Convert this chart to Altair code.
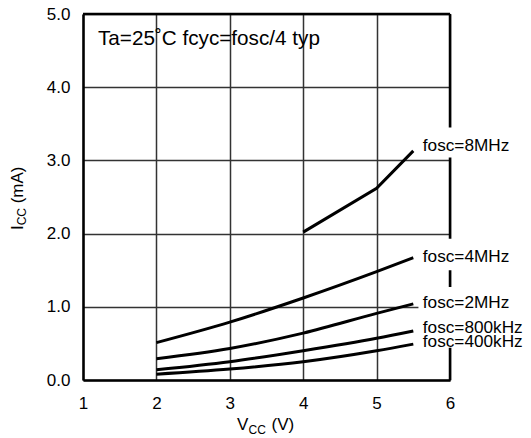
import altair as alt
import pandas as pd

# ---- data ----
vcc = [2, 3, 4, 5, 5.5]
icc_4mhz = [0.51, 0.79, 1.12, 1.48, 1.67]
icc_2mhz = [0.29, 0.43, 0.64, 0.91, 1.04]
icc_800k = [0.14, 0.25, 0.40, 0.57, 0.67]
icc_400k = [0.08, 0.15, 0.25, 0.40, 0.49]
vcc_8mhz = [4, 5, 5.5]
icc_8mhz = [2.02, 2.62, 3.13]

label_names = ["fosc=8MHz", "fosc=4MHz", "fosc=2MHz", "fosc=800kHz", "fosc=400kHz"]
label_y = [3.124, 1.61, 0.977, 0.64, 0.445]
label_x = 5.63
box_top = [3.45, 1.93, 1.27]
box_bottom = [3.04, 1.50, 0.44]
box_x = [5.57, 6.4]

annotation = "Ta=25˚C fcyc=fosc/4 typ"
x_ticks = [1, 2, 3, 4, 5, 6]
y_ticks = [0, 1, 2, 3, 4, 5]

FONT = "Liberation Sans"

rows = []
for name, vals in [("4MHz", icc_4mhz), ("2MHz", icc_2mhz), ("800kHz", icc_800k), ("400kHz", icc_400k)]:
    for v, i in zip(vcc, vals):
        rows.append({"series": name, "vcc": v, "icc": i})
df_low = pd.DataFrame(rows)
df_8 = pd.DataFrame({"vcc": vcc_8mhz, "icc": icc_8mhz})

xscale = alt.Scale(domain=[1, 6], nice=False, zero=False)
yscale = alt.Scale(domain=[0, 5], nice=False)

xaxis = alt.Axis(values=x_ticks, format="d", title=None, ticks=False, labelPadding=15,
                 labelFontSize=17, labelFont=FONT, labelColor="black",
                 grid=True, gridColor="#333333", gridWidth=1.5,
                 domainColor="black", domainWidth=2.5, labelFlush=False)
yaxis = alt.Axis(values=y_ticks, format=".1f", title=None, ticks=False, labelPadding=13,
                 labelFontSize=17, labelFont=FONT, labelColor="black",
                 grid=True, gridColor="#333333", gridWidth=1.5,
                 domainColor="black", domainWidth=2.5, labelFlush=False)

curves = alt.Chart(df_low).mark_line(interpolate="monotone", color="black", strokeWidth=3).encode(
    x=alt.X("vcc:Q", scale=xscale, axis=xaxis),
    y=alt.Y("icc:Q", scale=yscale, axis=yaxis),
    detail="series:N",
)
curve8 = alt.Chart(df_8).mark_line(color="black", strokeWidth=3).encode(
    x=alt.X("vcc:Q", scale=xscale),
    y=alt.Y("icc:Q", scale=yscale),
)

frame_df = pd.DataFrame({"x": [1, 6], "x2": [6, 6], "y": [5, 0], "y2": [5, 5]})
frame = alt.Chart(frame_df).mark_rule(color="black", strokeWidth=2.5).encode(
    x=alt.X("x:Q", scale=xscale), x2="x2:Q",
    y=alt.Y("y:Q", scale=yscale), y2="y2:Q",
)

box_df = pd.DataFrame({"x": [box_x[0]] * 3, "x2": [box_x[1]] * 3, "y": box_top, "y2": box_bottom})
boxes = alt.Chart(box_df).mark_rect(color="white").encode(
    x=alt.X("x:Q", scale=xscale), x2="x2:Q",
    y=alt.Y("y:Q", scale=yscale), y2="y2:Q",
)

lab_df = pd.DataFrame({"t": label_names, "x": [label_x] * 5, "y": label_y})
labels = alt.Chart(lab_df).mark_text(align="left", baseline="alphabetic", fontSize=17.2,
                                      font=FONT, color="black").encode(
    x=alt.X("x:Q", scale=xscale), y=alt.Y("y:Q", scale=yscale), text="t:N")

ann_df = pd.DataFrame({"t": [annotation], "x": [1.204], "y": [4.58]})
ann = alt.Chart(ann_df).mark_text(align="left", baseline="alphabetic", fontSize=20.7,
                                   font=FONT, color="black").encode(
    x=alt.X("x:Q", scale=xscale), y=alt.Y("y:Q", scale=yscale), text="t:N")

one = pd.DataFrame({"a": [0]})

def piece(txt, px, py, size, angle=0):
    m = alt.Chart(one).mark_text(text=txt, align="left", baseline="alphabetic", fontSize=size,
                                 font=FONT, color="black", angle=angle)
    return m.encode(x=alt.value(px), y=alt.value(py))

# x-axis title  V_CC (V)
xt1 = piece("V", 154, 416, 17)
xt2 = piece("CC", 165.5, 420, 12)
xt3 = piece("(V)", 188.5, 416, 17)
# y-axis title  I_CC (mA)
yt1 = piece("I", -60, 216, 17, 270)
yt2 = piece("CC", -57, 211.3, 12, 270)
yt3 = piece("(mA)", -60, 189.3, 17, 270)

chart = alt.layer(curves, curve8, frame, boxes, labels, ann, xt1, xt2, xt3, yt1, yt2, yt3).properties(
    width=367, height=366,
    padding={"left": 75, "top": 6, "right": 73, "bottom": 57},
    autosize=alt.AutoSizeParams(type="none"),
    background="white",
).configure_view(stroke=None)

chart.save("out.html", embed_options={"renderer": "svg", "actions": False})
